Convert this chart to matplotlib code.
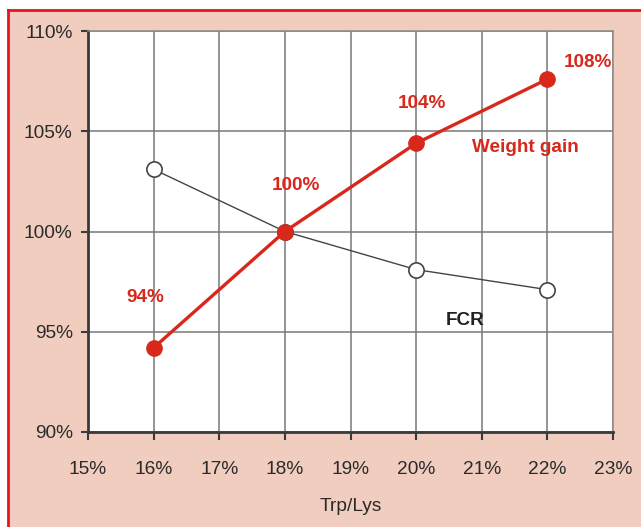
import matplotlib as mplt
mplt.use('Agg')
import matplotlib.pyplot as plt
import matplotlib.ticker as plticker
from matplotlib.lines import Line2D
from matplotlib.patches import Rectangle

# Trp/Lys ratio (%) and relative performance (%)
trp_lys = [16, 18, 20, 22]
weight_gain = [94.2, 100, 104.4, 107.6]
fcr = [103.1, 100, 98.1, 97.1]

x_ticks = [15, 16, 17, 18, 19, 20, 21, 22, 23]
y_ticks = [90, 95, 100, 105, 110]

red = '#d8281c'
peach = '#f1cdbf'
plt.rcParams['font.family'] = ['Liberation Sans', 'DejaVu Sans']

fig = plt.figure(figsize=(6.41, 5.27), dpi=100)
fig.patch.set_facecolor('white')

# Panel background with red frame on top and left
W, H = 641, 527
fig.patches.append(Rectangle((8 / W, 0), 1 - 8 / W, 1 - 10 / H, transform=fig.transFigure,
                             facecolor=peach, edgecolor='none', zorder=-2))
fig.lines.append(Line2D([8 / W, 8 / W], [0, 1 - 10 / H], transform=fig.transFigure,
                        color='#e8141c', linewidth=2, zorder=-1))
fig.lines.append(Line2D([8 / W, 1], [1 - 10 / H, 1 - 10 / H], transform=fig.transFigure,
                        color='#e8141c', linewidth=2, zorder=-1))

ax = fig.add_axes([88 / W, 1 - 432 / H, (613 - 88) / W, (432 - 31) / H])
ax.set_zorder(2)
ax.set_facecolor('white')
ax.set_xlim(15, 23)
ax.set_ylim(90, 110)
ax.set_xticks(x_ticks)
ax.set_yticks(y_ticks)
ax.xaxis.set_major_formatter(plticker.FuncFormatter(lambda v, p: '%d%%' % v))
ax.yaxis.set_major_formatter(plticker.FuncFormatter(lambda v, p: '%d%%' % v))
ax.grid(color='#787878', linewidth=1.1)
ax.set_axisbelow(True)
for s in ['top', 'right']:
    ax.spines[s].set_color('#8a8a8a')
    ax.spines[s].set_linewidth(1.1)
for s in ['left', 'bottom']:
    ax.spines[s].set_color('#3a3a3a')
    ax.spines[s].set_linewidth(2)
ax.tick_params(axis='y', length=5, width=1.5, color='#3a3a3a', pad=6, labelsize=13.8, labelcolor='#2a2a2a')
ax.tick_params(axis='x', length=6, width=1.5, color='#3a3a3a', pad=15, labelsize=13.8, labelcolor='#2a2a2a')
ax.set_xlabel('Trp/Lys', fontsize=13.8, color='#2a2a2a', labelpad=14)

ax.plot(trp_lys, fcr, color='#444444', linewidth=1, marker='o', markersize=11,
        markerfacecolor='white', markeredgecolor='#444444', markeredgewidth=1.2, zorder=3)
ax.plot(trp_lys, weight_gain, color=red, linewidth=2.4, marker='o', markersize=11,
        markerfacecolor=red, markeredgecolor=red, zorder=4)

# Value labels on the weight gain series
offsets = [(-6, 36), (8, 33), (4, 29), (29, 12)]
for x, y, off in zip(trp_lys, weight_gain, offsets):
    ax.annotate('%.0f%%' % y, (x, y), xytext=off, textcoords='offset points',
                ha='center', va='center', color=red, fontsize=13.6, fontweight='bold',
                annotation_clip=False)

ax.text(21.66, 104.2, 'Weight gain', color=red, fontsize=13.6, fontweight='bold',
        ha='center', va='center')
ax.text(20.75, 95.55, 'FCR', color='#222222', fontsize=13.6, fontweight='bold',
        ha='center', va='center')

plt.savefig('out.png', dpi=100)
